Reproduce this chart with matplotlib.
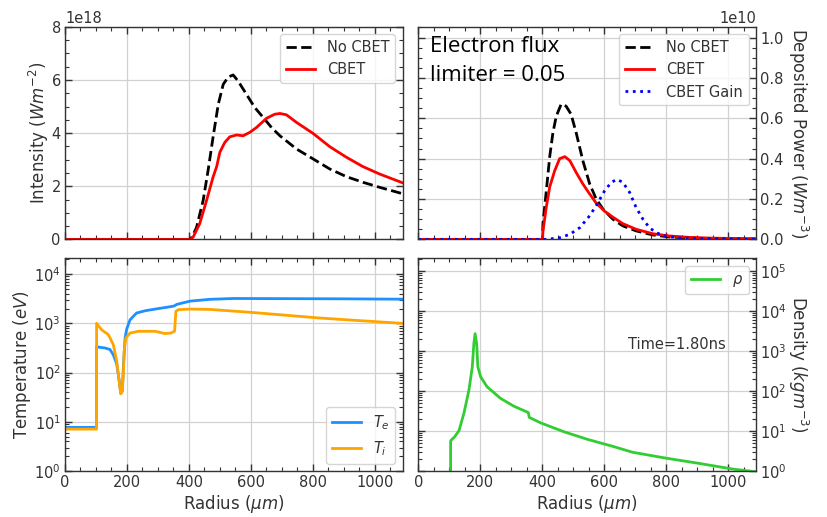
"""
Laser intensity, deposited power, temperatures and mass density against
radius at t = 1.80 ns, with and without cross-beam energy transfer (CBET).

    row 0 : [intensity]    [deposited power + CBET gain]
    row 1 : [Te, Ti (log)] [density (log)]
"""

import matplotlib.pyplot as plt
from matplotlib.ticker import MultipleLocator, LogLocator, NullFormatter

# ---------------------------------------------------------------------------
# Data (radius in um)
# ---------------------------------------------------------------------------
R_INT_NOCBET = [0, 400, 405, 412, 425, 446, 462, 478, 495, 511, 527, 543, 559,
                586, 613, 640, 667, 694, 748, 801, 855, 909, 962, 1016, 1090]
INT_NOCBET = [0, 0, 0.02, 0.12, 0.46, 1.46, 2.59, 3.84, 5.09, 5.84, 6.11, 6.19,
              5.96, 5.46, 4.96, 4.59, 4.21, 3.90, 3.40, 3.03, 2.65, 2.36, 2.15,
              1.96, 1.72]  # x 1e18 W/m^2

R_INT_CBET = [0, 405, 414, 435, 457, 478, 490, 500, 516, 532, 554, 575, 597,
              618, 651, 677, 694, 715, 748, 801, 855, 909, 962, 1016, 1090]
INT_CBET = [0, 0, 0.09, 0.59, 1.46, 2.34, 2.75, 3.28, 3.65, 3.86, 3.93, 3.90,
            4.03, 4.21, 4.56, 4.71, 4.74, 4.69, 4.40, 3.99, 3.49, 3.09, 2.74,
            2.46, 2.13]

R_DEP_NOCBET = [0, 401, 402, 413, 424, 434, 445, 461, 477, 493, 510, 531, 553,
                574, 596, 628, 660, 703, 757, 810, 874, 950, 1090]
DEP_NOCBET = [0, 0, 0.075, 0.24, 0.41, 0.525, 0.61, 0.67, 0.66, 0.62, 0.525,
              0.39, 0.275, 0.20, 0.15, 0.10, 0.067, 0.042, 0.022, 0.012, 0.007,
              0.004, 0.002]  # x 1e10 W/m^3

R_DEP_CBET = [0, 401, 402, 413, 424, 440, 456, 473, 489, 510, 531, 553, 574,
              601, 628, 660, 703, 757, 810, 874, 950, 1090]
DEP_CBET = [0, 0, 0.04, 0.16, 0.26, 0.34, 0.40, 0.41, 0.39, 0.33, 0.275, 0.225,
            0.18, 0.14, 0.11, 0.078, 0.05, 0.028, 0.017, 0.010, 0.006, 0.003]

R_GAIN = [0, 410, 424, 456, 489, 521, 553, 574, 601, 623, 641, 660, 682, 703,
          725, 746, 768, 800, 843, 900, 1090]
DEP_GAIN = [0, 0, 0.002, 0.008, 0.025, 0.058, 0.117, 0.167, 0.24, 0.283, 0.297,
            0.283, 0.233, 0.158, 0.10, 0.058, 0.033, 0.015, 0.007, 0.004, 0.001]

R_TE = [0, 102, 102, 107, 129, 145, 156, 167, 175, 180, 185, 189, 194, 199,
        210, 231, 258, 291, 334, 352, 361, 404, 468, 543, 700, 900, 1090]
T_E = [7.7, 7.7, 340, 330, 316, 295, 230, 150, 68, 38, 42, 150, 500, 760,
       1180, 1620, 1800, 1950, 2150, 2250, 2430, 2830, 3080, 3200, 3180, 3150,
       3100]  # eV

R_TI = [0, 102, 102, 118, 140, 156, 167, 175, 180, 185, 189, 191, 196, 210,
        237, 291, 323, 344, 354, 358, 366, 404, 468, 597, 704, 811, 920, 1090]
T_I = [7.1, 7.1, 1000, 742, 590, 370, 170, 66, 37, 42, 107, 270, 500, 635,
       690, 690, 620, 640, 700, 1750, 1900, 1950, 1920, 1680, 1480, 1300, 1170,
       1000]

R_RHO = [104, 104, 117, 131, 147, 163, 174, 179, 183, 188, 192, 201, 222, 265,
         308, 351, 355, 358, 395, 470, 546, 632, 691, 799, 906, 1014, 1068,
         1090]
RHO = [0.1, 5.7, 7.2, 10.2, 28, 105, 405, 1550, 2750, 1550, 405, 228, 128, 66,
       42, 30, 29, 22, 16, 9.6, 6.2, 4.05, 2.95, 2.1, 1.55, 1.12, 1.0, 0.95]  # kg/m^3

TIME_LABEL = "Time=1.80ns"
FLUX_LABEL = "Electron flux\nlimiter = 0.05"

R_MAX = 1090
TXT = "0.2"
LW = 2.0


def _style(ax, log=False):
    ax.grid(True, which="major", color="0.82", lw=0.9)
    ax.set_axisbelow(True)
    ax.tick_params(which="both", direction="in", top=True, bottom=True,
                   left=True, right=True, labelsize=10.5, labelcolor=TXT,
                   pad=3, color="0.2")
    ax.tick_params(which="major", length=5, width=1)
    ax.tick_params(which="minor", length=2.6, width=0.8)
    ax.xaxis.set_major_locator(MultipleLocator(200))
    ax.xaxis.set_minor_locator(MultipleLocator(50))
    if log:
        ax.set_yscale("log")
        ax.yaxis.set_major_locator(LogLocator(base=10, numticks=10))
        ax.yaxis.set_minor_locator(LogLocator(base=10, subs=range(2, 10),
                                              numticks=20))
        ax.yaxis.set_minor_formatter(NullFormatter())
    for sp in ax.spines.values():
        sp.set_color("0.2")
        sp.set_linewidth(1.0)
    ax.set_xlim(0, R_MAX)


def _right_axis(ax):
    ax.yaxis.set_label_position("right")
    ax.yaxis.set_offset_position("right")
    ax.tick_params(axis="y", which="both", labelleft=False, labelright=True)


def _legend(ax, loc):
    ax.legend(loc=loc, fontsize=10.5, handlelength=2.0, labelcolor=TXT)


def make_figure():
    fig, axes = plt.subplots(2, 2, figsize=(8.27, 5.17), dpi=100, sharex=True)
    fig.patch.set_facecolor("white")
    fig.subplots_adjust(left=0.0786, right=0.9141, top=0.948, bottom=0.089,
                        wspace=0.047, hspace=0.09)
    ax_int, ax_dep = axes[0]
    ax_temp, ax_rho = axes[1]

    # intensity
    ax_int.plot(R_INT_NOCBET, [v * 1e18 for v in INT_NOCBET], "k--", lw=LW,
                label="No CBET")
    ax_int.plot(R_INT_CBET, [v * 1e18 for v in INT_CBET], color="red", lw=LW,
                label="CBET")
    _style(ax_int)
    ax_int.set_ylim(0, 8e18)
    ax_int.yaxis.set_major_locator(MultipleLocator(2e18))
    ax_int.yaxis.set_minor_locator(MultipleLocator(0.5e18))
    ax_int.set_ylabel(r"Intensity ($Wm^{-2}$)", fontsize=12, color=TXT,
                      labelpad=0.5)
    ax_int.yaxis.get_offset_text().set(fontsize=10.5, color=TXT)
    _legend(ax_int, "upper right")

    # deposited power
    ax_dep.plot(R_DEP_NOCBET, [v * 1e10 for v in DEP_NOCBET], "k--", lw=LW,
                label="No CBET")
    ax_dep.plot(R_DEP_CBET, [v * 1e10 for v in DEP_CBET], color="red", lw=LW,
                label="CBET")
    ax_dep.plot(R_GAIN, [v * 1e10 for v in DEP_GAIN], color="blue", ls=":",
                lw=LW, label="CBET Gain")
    _style(ax_dep)
    _right_axis(ax_dep)
    ax_dep.set_ylim(0, 1.053e10)
    ax_dep.yaxis.set_major_locator(MultipleLocator(0.2e10))
    ax_dep.yaxis.set_minor_locator(MultipleLocator(0.05e10))
    ax_dep.set_ylabel(r"Deposited Power ($Wm^{-3}$)", fontsize=12, color=TXT,
                      rotation=270, labelpad=19)
    ax_dep.yaxis.get_offset_text().set(fontsize=10.5, color=TXT)
    _legend(ax_dep, "upper right")
    ax_dep.text(0.033, 0.955, FLUX_LABEL, transform=ax_dep.transAxes,
                ha="left", va="top", fontsize=16, family="Open Sans",
                linespacing=1.5, color="black")

    # temperatures
    ax_temp.plot(R_TE, T_E, color="dodgerblue", lw=LW, label=r"$T_e$")
    ax_temp.plot(R_TI, T_I, color="orange", lw=LW, label=r"$T_i$")
    _style(ax_temp, log=True)
    ax_temp.set_ylim(1, 2.08e4)
    ax_temp.set_ylabel(r"Temperature ($eV$)", fontsize=12, color=TXT,
                       labelpad=1)
    ax_temp.set_xlabel(r"Radius ($\mu m$)", fontsize=12, color=TXT, labelpad=2)
    _legend(ax_temp, "lower right")

    # density
    ax_rho.plot(R_RHO, RHO, color="limegreen", lw=LW, label=r"$\rho$")
    _style(ax_rho, log=True)
    _right_axis(ax_rho)
    ax_rho.set_ylim(1, 2.1e5)
    ax_rho.set_ylabel(r"Density ($kgm^{-3}$)", fontsize=12, color=TXT,
                      rotation=270, labelpad=17)
    ax_rho.set_xlabel(r"Radius ($\mu m$)", fontsize=12, color=TXT, labelpad=2)
    ax_rho.text(678, 1500, TIME_LABEL, ha="left", va="center", fontsize=10.5,
                color=TXT)
    _legend(ax_rho, "upper right")

    return fig


if __name__ == "__main__":
    fig = make_figure()
    fig.savefig("out.png", dpi=100, facecolor="white")
